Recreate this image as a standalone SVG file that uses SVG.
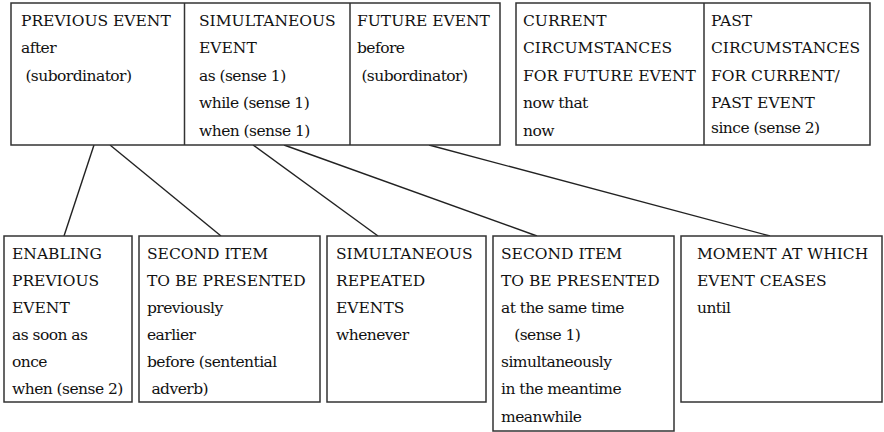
<svg xmlns="http://www.w3.org/2000/svg" width="884" height="432" viewBox="0 0 884 432">
<style>
.box{fill:#fff;stroke:#333;stroke-width:1.5}
.div{stroke:#333;stroke-width:1.5}
.con line{stroke:#222;stroke-width:1.4}
.t text{font-family:"DejaVu Serif","Liberation Serif",serif;font-size:15.5px;fill:#111}
.t text.l{letter-spacing:-0.55px}
</style>
<rect width="884" height="432" fill="#fff"/>
<g class="con" id="connectors">
<line x1="94" y1="145" x2="64" y2="236"/>
<line x1="110" y1="145" x2="221" y2="236"/>
<line x1="253" y1="145" x2="378" y2="236"/>
<line x1="284" y1="145" x2="537" y2="236"/>
<line x1="429" y1="145" x2="770" y2="236"/>
</g>
<g id="top-left">
<rect class="box" x="11" y="3" width="489" height="142"/>
<line class="div" x1="184.5" y1="3" x2="184.5" y2="145"/>
<line class="div" x1="350" y1="3" x2="350" y2="145"/>
</g>
<g id="previous-event" class="t">
<text x="21" y="25.5">PREVIOUS EVENT</text>
<text class="l" x="21" y="53">after</text>
<text class="l" x="21" y="80.5" xml:space="preserve"> (subordinator)</text>
</g>
<g id="simultaneous-event" class="t">
<text x="199" y="25.5">SIMULTANEOUS</text>
<text x="199" y="53">EVENT</text>
<text class="l" x="199" y="80.5">as (sense 1)</text>
<text class="l" x="199" y="108">while (sense 1)</text>
<text class="l" x="199" y="135.5">when (sense 1)</text>
</g>
<g id="future-event" class="t">
<text x="357" y="25.5">FUTURE EVENT</text>
<text class="l" x="357" y="53">before</text>
<text class="l" x="357" y="80.5" xml:space="preserve"> (subordinator)</text>
</g>
<g id="top-right">
<rect class="box" x="516" y="3" width="354" height="142"/>
<line class="div" x1="704" y1="3" x2="704" y2="145"/>
</g>
<g id="current-circumstances" class="t">
<text x="523" y="25.5">CURRENT</text>
<text x="523" y="53">CIRCUMSTANCES</text>
<text x="523" y="80.5">FOR FUTURE EVENT</text>
<text class="l" x="523" y="108">now that</text>
<text class="l" x="523" y="135.5">now</text>
</g>
<g id="past-circumstances" class="t">
<text x="711" y="25.5">PAST</text>
<text x="711" y="53">CIRCUMSTANCES</text>
<text x="711" y="80.5">FOR CURRENT/</text>
<text x="711" y="108">PAST EVENT</text>
<text class="l" x="711" y="133">since (sense 2)</text>
</g>
<g id="enabling-previous-event" class="t">
<rect class="box" x="4" y="236" width="128" height="166"/>
<text x="12" y="258.5">ENABLING</text>
<text x="12" y="286">PREVIOUS</text>
<text x="12" y="313">EVENT</text>
<text class="l" x="12" y="340">as soon as</text>
<text class="l" x="12" y="367">once</text>
<text class="l" x="12" y="394">when (sense 2)</text>
</g>
<g id="second-item-previously" class="t">
<rect class="box" x="139" y="236" width="181" height="166"/>
<text x="147" y="258.5">SECOND ITEM</text>
<text x="147" y="286">TO BE PRESENTED</text>
<text class="l" x="147" y="313">previously</text>
<text class="l" x="147" y="340">earlier</text>
<text class="l" x="147" y="367">before (sentential</text>
<text class="l" x="147" y="394" xml:space="preserve"> adverb)</text>
</g>
<g id="simultaneous-repeated-events" class="t">
<rect class="box" x="327" y="236" width="159" height="166"/>
<text x="336" y="258.5">SIMULTANEOUS</text>
<text x="336" y="286">REPEATED</text>
<text x="336" y="313">EVENTS</text>
<text class="l" x="336" y="340">whenever</text>
</g>
<g id="second-item-simultaneously" class="t">
<rect class="box" x="493" y="236" width="181" height="195"/>
<text x="501" y="258.5">SECOND ITEM</text>
<text x="501" y="286">TO BE PRESENTED</text>
<text class="l" x="501" y="313">at the same time</text>
<text class="l" x="501" y="340" xml:space="preserve">   (sense 1)</text>
<text class="l" x="501" y="367">simultaneously</text>
<text class="l" x="501" y="394">in the meantime</text>
<text class="l" x="501" y="422">meanwhile</text>
</g>
<g id="moment-event-ceases" class="t">
<rect class="box" x="681" y="236" width="201" height="166"/>
<text x="697" y="258.5">MOMENT AT WHICH</text>
<text x="697" y="286">EVENT CEASES</text>
<text class="l" x="697" y="313">until</text>
</g>
</svg>
